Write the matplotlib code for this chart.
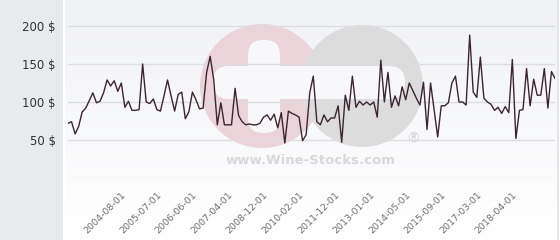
import matplotlib
matplotlib.use("Agg")
import matplotlib.pyplot as plt
from matplotlib.patches import Circle, FancyBboxPatch, Rectangle
import numpy as np

# price series (one value per listed sale)
prices = [
    72, 74, 58, 68, 87, 92, 102, 112, 99, 101,
    112, 129, 121, 128, 114, 125, 93, 101, 89, 89,
    90, 150, 100, 98, 104, 90, 88, 108, 129, 108,
    88, 110, 113, 78, 87, 113, 103, 91, 92, 139,
    160, 129, 70, 99, 70, 70, 70, 118, 82, 74,
    70, 71, 70, 70, 72, 80, 83, 76, 84, 66,
    86, 46, 88, 85, 83, 80, 49, 57, 112, 134,
    74, 70, 83, 74, 79, 79, 95, 47, 109, 89,
    134, 93, 101, 96, 100, 96, 100, 80, 155, 100,
    139, 93, 108, 95, 120, 103, 125, 115, 105, 96,
    126, 64, 125, 89, 54, 95, 95, 99, 125, 134,
    100, 100, 96, 188, 113, 106, 159, 105, 100, 97,
    89, 93, 85, 94, 86, 156, 52, 89, 90, 144,
    95, 130, 109, 109, 144, 92, 140, 131,
]
tick_pos = [15, 25, 35, 45, 55, 65, 75, 85, 95, 105, 115, 125]
tick_labels = [
    "2004-08-01", "2005-07-01", "2006-06-01", "2007-04-01",
    "2008-12-01", "2010-02-01", "2011-12-01", "2013-01-01",
    "2014-05-01", "2015-09-01", "2017-03-01", "2018-04-01",
]
y_ticks = [50, 100, 150, 200]

W, H = 560, 240
fig = plt.figure(figsize=(W / 100, H / 100), dpi=100)
fig.patch.set_facecolor("white")

# left grey panel
fig.patches.append(Rectangle((0, 0), 63 / W, 1, transform=fig.transFigure,
                             facecolor="#e7ebee", edgecolor="none", zorder=0))

# soft gradient background of the plot region
bg = fig.add_axes([65 / W, 0, (557 - 65) / W, 1], zorder=0)
grad = np.linspace(0, 1, 100).reshape(-1, 1)
bg.imshow(grad, aspect="auto", cmap=matplotlib.colors.LinearSegmentedColormap.from_list(
    "g", ["#f1f2f6", "#ffffff"]), extent=[0, 1, 0, 1], origin="upper")
bg.axis("off")
fig.patches.append(Rectangle((557 / W, 0), 2 / W, 1, transform=fig.transFigure,
                             facecolor="#e4e6ea", edgecolor="none", zorder=0))

ax = fig.add_axes([68 / W, (H - 178) / H, (555 - 68) / W, 178 / H], zorder=1)
ax.patch.set_alpha(0)

# watermark (pixel coords via inches, y from bottom)
px = fig.dpi_scale_trans
def P(x, y):
    return (x / 100, (H - y) / 100)

ax.add_patch(Circle(P(262, 86), 0.62, transform=px, facecolor="#ead4d9",
                    edgecolor="none", zorder=0))
ax.add_patch(Circle(P(362, 86), 0.61, transform=px, facecolor="#dcdcdd",
                    edgecolor="none", zorder=0))
ax.add_patch(FancyBboxPatch(P(213, 99), 1.92, 0.33, transform=px,
                            boxstyle="round,pad=0,rounding_size=0.16",
                            facecolor="#f8f8fb", edgecolor="none", zorder=0.1))
ax.add_patch(FancyBboxPatch(P(248, 133), 0.32, 0.93, transform=px,
                            boxstyle="round,pad=0,rounding_size=0.15",
                            facecolor="#f8f8fb", edgecolor="none", zorder=0.1))
fig.text(311 / W, (H - 161) / H, "www.Wine-Stocks.com", ha="center", va="center",
         fontsize=9.5, fontweight="bold", color="#d8d8da", zorder=0.5)
fig.text(413 / W, (H - 139) / H, "®", ha="center", va="center",
         fontsize=10, color="#d4d4d6", zorder=0.5)

x = np.arange(len(prices))
ax.plot(x, prices, color="#3b2530", linewidth=1.0, zorder=3)

ax.set_xlim(0, len(prices) - 1)
ax.set_ylim(0, 234.2)
ax.set_yticks([0] + y_ticks)
ax.set_yticklabels([""] + [f"{v} $" for v in y_ticks])
ax.grid(axis="y", color="#dcdde0", linewidth=1.0, zorder=1)
ax.set_xticks(tick_pos)
ax.set_xticklabels(tick_labels, rotation=45, ha="right", va="top",
                   rotation_mode="anchor")
ax.tick_params(axis="y", length=0, pad=9, labelsize=8.5, labelcolor="#333333")
ax.tick_params(axis="x", length=0, pad=9, labelsize=6.8, labelcolor="#707070")
for s in ax.spines.values():
    s.set_visible(False)

fig.savefig("out.png", dpi=100)
